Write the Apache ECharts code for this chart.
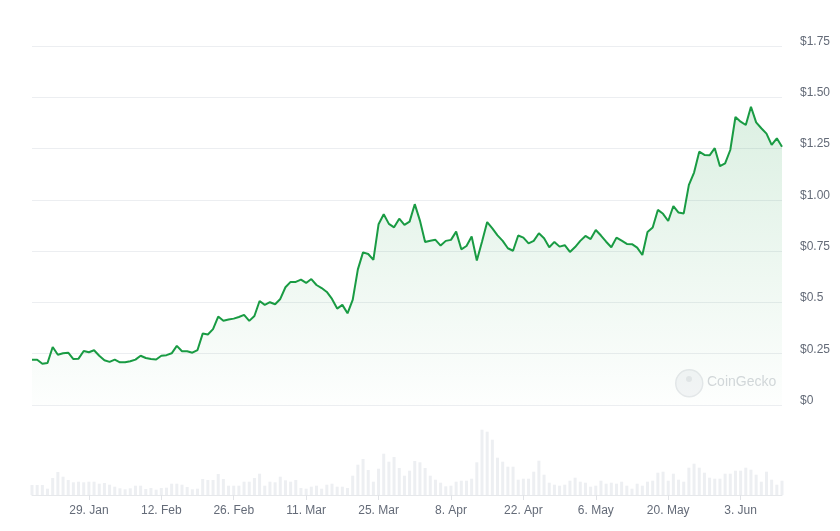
<!DOCTYPE html>
<html>
<head>
<meta charset="utf-8">
<script src="https://cdn.jsdelivr.net/npm/echarts@6/dist/echarts.min.js"></script>
<style>
  html, body { margin: 0; padding: 0; background: #fff; }
  #chart { width: 840px; height: 531px; }
</style>
</head>
<body>
<div id="chart"></div>
<script>
// daily points, 18 Jan 2024 .. 11 Jun 2024
var startDate = Date.UTC(2024, 0, 18);
var monthNames = ['Jan', 'Feb', 'Mar', 'Apr', 'May', 'Jun', 'Jul', 'Aug', 'Sep', 'Oct', 'Nov', 'Dec'];

var prices = [
  0.221, 0.221, 0.201, 0.205, 0.283, 0.245, 0.252, 0.255, 0.224, 0.226,
  0.263, 0.257, 0.267, 0.240, 0.218, 0.210, 0.221, 0.208, 0.208, 0.213,
  0.221, 0.240, 0.229, 0.224, 0.222, 0.240, 0.243, 0.252, 0.288, 0.262,
  0.262, 0.255, 0.268, 0.348, 0.344, 0.370, 0.431, 0.411, 0.417, 0.421,
  0.429, 0.439, 0.410, 0.434, 0.507, 0.488, 0.501, 0.491, 0.517, 0.574,
  0.600, 0.600, 0.611, 0.595, 0.614, 0.585, 0.570, 0.551, 0.517, 0.470,
  0.488, 0.447, 0.512, 0.661, 0.744, 0.736, 0.707, 0.881, 0.930, 0.883,
  0.866, 0.908, 0.878, 0.894, 0.979, 0.899, 0.795, 0.801, 0.805, 0.777,
  0.800, 0.805, 0.845, 0.759, 0.775, 0.821, 0.704, 0.796, 0.892, 0.861,
  0.827, 0.800, 0.764, 0.752, 0.826, 0.816, 0.788, 0.800, 0.837, 0.813,
  0.769, 0.795, 0.772, 0.779, 0.746, 0.770, 0.800, 0.824, 0.809, 0.853,
  0.826, 0.796, 0.769, 0.816, 0.801, 0.785, 0.784, 0.767, 0.731, 0.843,
  0.865, 0.951, 0.932, 0.897, 0.970, 0.938, 0.934, 1.073, 1.133, 1.235,
  1.219, 1.217, 1.252, 1.164, 1.178, 1.243, 1.404, 1.381, 1.365, 1.454,
  1.378, 1.349, 1.323, 1.268, 1.300, 1.259
];

// volume, M USD
var volumes = [
  10, 10, 10, 6.3, 17, 23, 18.3, 15, 12.7, 13.3,
  12.7, 13.3, 13.3, 11.3, 12, 10.3, 8.3, 6.7, 5.7, 6.7,
  9.3, 9.3, 6, 7, 5.3, 7, 7.3, 11.3, 11.3, 10.3,
  8, 5.7, 6.3, 16, 15, 15, 21, 16, 9.3, 9.3,
  9.3, 13.3, 13.3, 17, 21.3, 9.3, 13.3, 12.7, 18.3, 14.7,
  13.3, 15, 7, 6.3, 8.3, 9.3, 6.3, 10.3, 11.3, 8.3,
  8.3, 7, 19.3, 30.3, 36, 25, 13.3, 26.3, 41.3, 33.3,
  38, 27, 19.3, 24.3, 34, 32.7, 27, 19.3, 15.3, 12.3,
  8.7, 9.3, 13.3, 14.3, 14.3, 16.3, 32.7, 65.3, 63.3, 55.3,
  37.3, 33.3, 28.3, 28.3, 15.3, 16.3, 16.3, 23.3, 34.3, 20.3,
  12.3, 10.3, 9.3, 10.3, 14.3, 17.3, 13.3, 12.3, 8.3, 9.3,
  14.3, 11.3, 12.3, 11.3, 13.3, 9.3, 6.3, 11.3, 9.3, 13.3,
  14.3, 22.3, 23.3, 14.3, 21.3, 15.3, 13.3, 27.3, 31.3, 27.3,
  22.3, 17.3, 16.3, 16.3, 21.3, 21.3, 24.3, 24.3, 27.3, 25.3,
  20.3, 13.3, 23.3, 15.3, 10.3, 14.3
];

var xTickLabels = ['29. Jan', '12. Feb', '26. Feb', '11. Mar', '25. Mar', '8. Apr', '22. Apr', '6. May', '20. May', '3. Jun'];
var yTickLabels = ['$0', '$0.25', '$0.5', '$0.75', '$1.00', '$1.25', '$1.50', '$1.75'];

var dates = [];
for (var i = 0; i < prices.length; i++) {
  var d = new Date(startDate + i * 86400000);
  dates.push(d.getUTCDate() + '. ' + monthNames[d.getUTCMonth()]);
}

function showTick(index, value) {
  return xTickLabels.indexOf(value) >= 0;
}

var green = '#199b43';
var axisText = '#646b78';

var myChart = echarts.init(document.getElementById('chart'));
var option = {
  animation: false,
  backgroundColor: '#fff',
  textStyle: { fontFamily: 'Liberation Sans, Arial, sans-serif' },
  grid: [
    { left: 32, right: 58, top: 46, height: 359 },
    { left: 32, right: 58, top: 420, height: 75 }
  ],
  xAxis: [
    {
      type: 'category', gridIndex: 0, data: dates, boundaryGap: false,
      axisLine: { show: false }, axisTick: { show: false }, axisLabel: { show: false },
      splitLine: { show: false }
    },
    {
      type: 'category', gridIndex: 1, data: dates, boundaryGap: false,
      axisLine: { show: true, lineStyle: { color: '#e6e8eb', width: 1 } },
      axisTick: { show: true, interval: showTick, length: 5, lineStyle: { color: '#e0e2e6' } },
      axisLabel: {
        interval: showTick, color: axisText, fontSize: 12, margin: 10,
        fontFamily: 'Liberation Sans, Arial, sans-serif'
      }
    }
  ],
  yAxis: [
    {
      type: 'value', gridIndex: 0, position: 'right', min: 0, max: 1.75, interval: 0.25,
      axisLine: { show: false }, axisTick: { show: false },
      axisLabel: {
        color: axisText, fontSize: 12, margin: 18,
        verticalAlign: 'bottom', lineHeight: 9,
        formatter: function (v) { return yTickLabels[Math.round(v / 0.25)]; }
      },
      splitLine: { lineStyle: { color: '#eceef1', width: 1 } }
    },
    {
      type: 'value', gridIndex: 1, min: 0, max: 75, show: false,
      splitLine: { show: false }
    }
  ],
  graphic: [
    {
      type: 'circle', left: 675, top: 369, z: 0,
      shape: { r: 13.5 },
      style: { fill: '#f4f5f7', stroke: '#e6e8eb', lineWidth: 1.5 }
    },
    {
      type: 'circle', left: 686, top: 376, z: 1,
      shape: { r: 3 },
      style: { fill: '#e4e6e9' }
    },
    {
      type: 'text', left: 707, top: 375, z: 1,
      style: { text: 'CoinGecko', fill: '#d5d8dc', fontSize: 14, fontFamily: 'Liberation Sans, Arial, sans-serif' }
    }
  ],
  series: [
    {
      name: 'Price', type: 'line', xAxisIndex: 0, yAxisIndex: 0,
      data: prices, symbol: 'none', smooth: false,
      lineStyle: { color: green, width: 2 },
      areaStyle: {
        color: new echarts.graphic.LinearGradient(0, 0, 0, 1, [
          { offset: 0, color: 'rgba(25,155,67,0.22)' },
          { offset: 1, color: 'rgba(25,155,67,0.01)' }
        ])
      },
      z: 3
    },
    {
      name: 'Volume', type: 'bar', xAxisIndex: 1, yAxisIndex: 1,
      data: volumes, barWidth: 3, clip: false,
      itemStyle: { color: '#edeff2' }
    }
  ]
};
myChart.setOption(option);
</script>
</body>
</html>
